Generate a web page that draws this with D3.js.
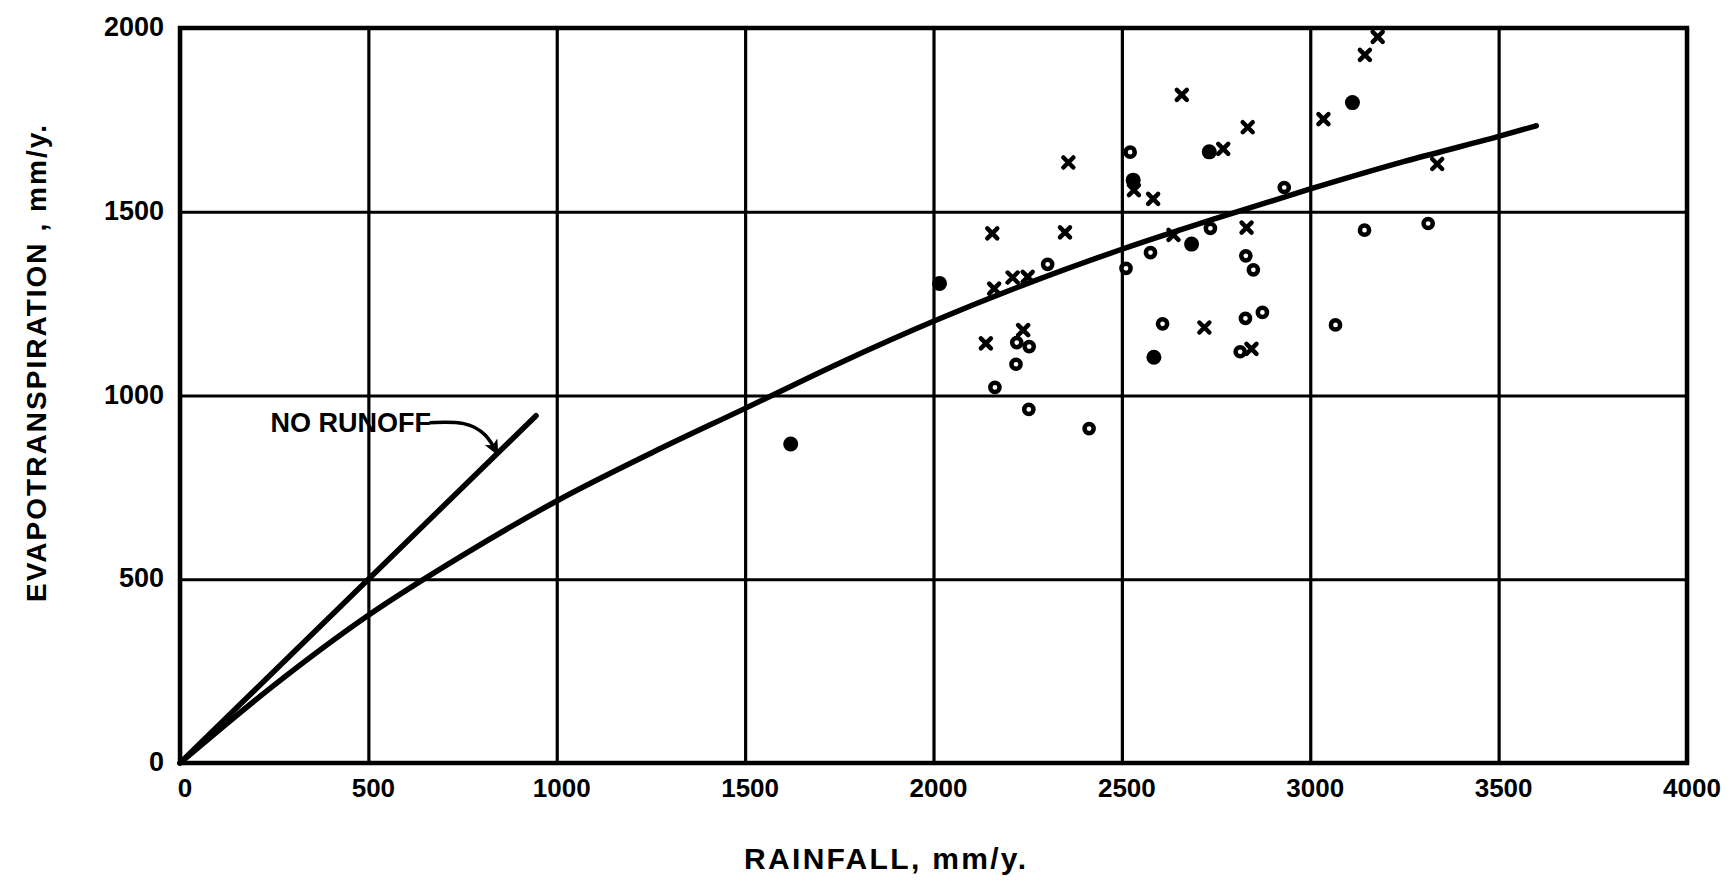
<!DOCTYPE html>
<html>
<head>
<meta charset="utf-8">
<script src="https://cdn.jsdelivr.net/npm/d3@7"></script>
<style>
  body { margin: 0; background: #fff; overflow: hidden; }
  svg { display: block; background: #fff; }
  text { font-family: "Liberation Sans", Arial, sans-serif; font-weight: bold; fill: #000; }
</style>
</head>
<body>
<svg width="1732" height="884"></svg>
<script>
// rainfall (mm/y) / evapotranspiration (mm/y)
const xTicks = [0, 500, 1000, 1500, 2000, 2500, 3000, 3500, 4000];
const yTicks = [0, 500, 1000, 1500, 2000];

const crossPoints = [
  [2659, 1818], [2834, 1730], [2769, 1671], [3035, 1752], [2358, 1634],
  [2532, 1559], [2583, 1535], [2156, 1441], [2349, 1444], [2831, 1457],
  [2637, 1437], [2210, 1321], [2250, 1323], [2161, 1291], [2238, 1178],
  [2139, 1142], [2719, 1185], [2844, 1127], [3179, 1976], [3145, 1927],
  [3337, 1630]
];
const openPoints = [
  [2522, 1662], [2931, 1566], [2735, 1455], [2576, 1389], [2511, 1346],
  [2303, 1357], [2829, 1380], [2849, 1342], [2873, 1226], [2828, 1210],
  [2608, 1195], [2814, 1119], [2221, 1144], [2254, 1133], [2219, 1085],
  [2163, 1022], [2253, 962], [2413, 910], [3144, 1450], [3313, 1468],
  [3067, 1192]
];
const filledPoints = [
  [2732, 1663], [2530, 1586], [2685, 1412], [2016, 1305], [2585, 1104],
  [1621, 868], [3112, 1797]
];

// fitted curve
const curveRain = [0, 250, 500, 750, 1000, 1250, 1500, 1750, 2000, 2250, 2500, 2750, 3000, 3250, 3500, 3600];
const curveET   = [0, 212, 402, 565, 713, 843, 965, 1088, 1202, 1305, 1398, 1482, 1562, 1637, 1705, 1734];

// no runoff line (E = P)
const noRunoff = [[0, 0], [945, 945]];
const arrowPath = [[662, 926], [760, 930], [815, 895], [843, 840]];

const svg = d3.select('svg');
const width = +svg.attr('width');
const height = +svg.attr('height');
const margin = { top: 28, right: 45, bottom: 121, left: 180 };
const innerWidth = width - margin.left - margin.right;
const innerHeight = height - margin.top - margin.bottom;

const xScale = d3.scaleLinear().domain([0, 4000]).range([0, innerWidth]);
const yScale = d3.scaleLinear().domain([0, 2000]).range([innerHeight, 0]);

const g = svg.append('g')
  .attr('transform', `translate(${margin.left},${margin.top})`);

// grid
const xAxisG = g.append('g')
  .attr('transform', `translate(0,${innerHeight})`)
  .call(d3.axisBottom(xScale).tickValues(xTicks).tickSize(-innerHeight).tickFormat(''));
xAxisG.select('.domain').remove();
xAxisG.selectAll('line').attr('stroke', '#000').attr('stroke-width', 3.2);

const yAxisG = g.append('g')
  .call(d3.axisLeft(yScale).tickValues(yTicks).tickSize(-innerWidth).tickFormat(''));
yAxisG.select('.domain').remove();
yAxisG.selectAll('line').attr('stroke', '#000').attr('stroke-width', 3.2);

// tick labels
g.selectAll('text.xlabel').data(xTicks)
  .enter().append('text')
    .attr('class', 'xlabel')
    .attr('x', d => xScale(d) + 5)
    .attr('y', innerHeight + 34)
    .attr('text-anchor', 'middle')
    .attr('font-size', 26)
    .text(d => d);

g.selectAll('text.ylabel').data(yTicks)
  .enter().append('text')
    .attr('class', 'ylabel')
    .attr('x', -16)
    .attr('y', d => yScale(d) + 8)
    .attr('text-anchor', 'end')
    .attr('font-size', 27)
    .text(d => d);

// frame
g.append('rect')
  .attr('width', innerWidth).attr('height', innerHeight)
  .attr('fill', 'none').attr('stroke', '#000').attr('stroke-width', 4.5);

// axis titles
svg.append('text')
  .attr('x', 744).attr('y', 869)
  .attr('font-size', 30)
  .attr('textLength', 282).attr('lengthAdjust', 'spacing')
  .text('RAINFALL,  mm/y.');

svg.append('text')
  .attr('transform', 'translate(46,602) rotate(-90)')
  .attr('font-size', 28)
  .attr('textLength', 477).attr('lengthAdjust', 'spacing')
  .text('EVAPOTRANSPIRATION ,  mm/y.');

// lines
const line = d3.line().x(d => xScale(d[0])).y(d => yScale(d[1]));

g.append('path')
  .datum(noRunoff)
  .attr('d', line)
  .attr('fill', 'none').attr('stroke', '#000').attr('stroke-width', 5.5)
  .attr('stroke-linecap', 'round');

g.append('path')
  .datum(curveRain.map((r, i) => [r, curveET[i]]))
  .attr('d', line.curve(d3.curveMonotoneX))
  .attr('fill', 'none').attr('stroke', '#000').attr('stroke-width', 5.5)
  .attr('stroke-linecap', 'round');

// NO RUNOFF label + arrow
svg.append('defs').append('marker')
  .attr('id', 'arrowhead')
  .attr('viewBox', '0 0 10 10')
  .attr('refX', 9).attr('refY', 5)
  .attr('markerWidth', 4.5).attr('markerHeight', 4.5)
  .attr('markerUnits', 'strokeWidth')
  .attr('orient', 'auto')
  .append('path').attr('d', 'M0,0.5 L10,5 L0,9.5 L2.5,5 Z').attr('fill', '#000');

const arrowLine = d3.line().x(d => xScale(d[0])).y(d => yScale(d[1])).curve(d3.curveBasis);
g.append('path')
  .datum(arrowPath)
  .attr('d', arrowLine)
  .attr('fill', 'none').attr('stroke', '#000').attr('stroke-width', 3.5)
  .attr('marker-end', 'url(#arrowhead)');

g.append('text')
  .attr('x', xScale(240)).attr('y', yScale(900))
  .attr('font-size', 27)
  .text('NO RUNOFF');

// data points
g.selectAll('path.cross').data(crossPoints)
  .enter().append('path')
    .attr('class', 'cross')
    .attr('transform', d => `translate(${xScale(d[0])},${yScale(d[1])})`)
    .attr('d', 'M-5,-5L5,5M-5,5L5,-5')
    .attr('stroke', '#000').attr('stroke-width', 4.5).attr('stroke-linecap', 'round');

g.selectAll('circle.open').data(openPoints)
  .enter().append('circle')
    .attr('class', 'open')
    .attr('cx', d => xScale(d[0]))
    .attr('cy', d => yScale(d[1]))
    .attr('r', 4.6)
    .attr('fill', '#fff').attr('stroke', '#000').attr('stroke-width', 4.5);

g.selectAll('circle.filled').data(filledPoints)
  .enter().append('circle')
    .attr('class', 'filled')
    .attr('cx', d => xScale(d[0]))
    .attr('cy', d => yScale(d[1]))
    .attr('r', 7.5)
    .attr('fill', '#000');
</script>
</body>
</html>
